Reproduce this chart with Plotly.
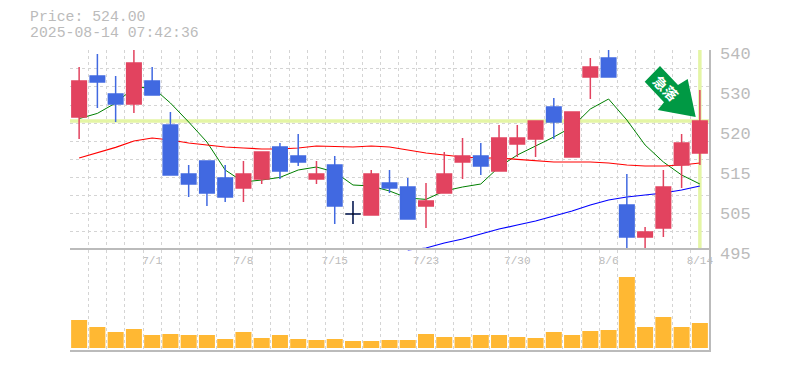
import plotly.graph_objects as go

dates = ["6/25","6/26","6/27","6/30","7/1","7/2","7/3","7/4","7/7","7/8","7/9","7/10","7/11","7/14","7/15","7/16","7/17","7/18",
         "7/22","7/23","7/24","7/25","7/28","7/29","7/30","7/31","8/1","8/4","8/5","8/6","8/7","8/8","8/12","8/13","8/14"]
opens = [525,535.25,530.75,528.25,534,523,510.75,514,509.75,507.25,509.5,517.5,515.25,509.5,513,500.75,500.5,508.5,
         507.5,502.75,506,513.75,515.25,511.5,518.25,519.5,527.5,515,535,539.75,503,495,497.25,513,516]
highs = [537.5,540.75,535.25,541.75,537.5,526.25,513,514,513,514,516.25,518.5,520.75,514,515.25,504,511.75,511.75,
         509.75,508.5,516.25,519.75,518.5,523,523,524,529.75,526.25,539.75,541.75,510.75,497.5,511.75,520.75,531.75]
lows = [519.5,527.25,523.75,526,530.5,510.5,505,502.75,503.75,503.75,508.25,509.5,512.75,508.25,498.25,498.25,500.5,506,
        499.5,497.25,506,509.5,510.5,511.5,515,515,519.5,515,529.5,535,491.75,491.75,495,507.25,513]
closes = [534,533.75,528.25,538.5,530.5,510.5,508.25,506,505,510.75,516.25,511.5,513.75,510.75,502.75,500.75,510.75,507.25,
          499.5,504,510.75,515.25,512.75,519.75,519.75,524,523.75,526.25,537.5,535,495,496.25,507.5,518.5,524]
ma_short = [524.6,525.9,528.5,532.25,532.5,528.5,523.75,518.75,511.75,508.75,509.25,509.9,511.75,512.5,511.25,508,507.75,506.5,
            504.75,504.4,506.5,507.5,508.25,512.5,515.5,517.75,520,522.5,527,529.5,524.25,518,513.75,510.5,508.25]
ma_mid = [514.75,516,517.4,519,519.75,519.25,518.5,518,517.5,517.25,517,517,517.25,517.75,517.6,517.5,517.75,517.5,
          516.75,516,515.5,515,514.75,514.75,514.4,514,513.75,513.75,513.75,513.5,513,512.75,512.75,513,513.5]
ma_long = [None]*18 + [491.75,492.25,493.5,494.5,495.75,497,498,499,500.25,501.5,503,504.25,505,505.5,506,506.75,507.75]
volumes = [28,21,16,19,13,14,13,13,9,16,10,13,9,8,9,7,7,8,8,14,11,11,13,13,11,10,16,13,17,18,71,21,31,21,25]
price_now = 524
price_labels = ["540","530","520","515","505","495"]
price_label_pos = [541,531,521,511,501,491]
date_label_idx = [4,9,14,19,24,29,34]
price_grid = [541.6,537.1,532.55,528,523.5,519,514.45,509.9,505.4,500.85,496.3,491.8]

W, H = 785, 370
RED, BLUE, GRID, TXT = "#e2435f", "#4169e1", "#d4d4d4", "#bbbbbb"
n = len(dates)
xs = list(range(n))
edges = [i - 0.5 for i in range(n + 1)]
px = lambda p: p / W
py = lambda p: 1 - p / H
YR = [490.75, 541.75]

fig = go.Figure()
fig.add_trace(go.Scatter(x=[-0.5, n - 0.5], y=[price_now, price_now], mode="lines",
                         line=dict(color="#e4f5a5", width=3.5), hoverinfo="skip"))
fig.add_trace(go.Scatter(x=[n - 1, n - 1], y=[491.75, 541.75], mode="lines",
                         line=dict(color="#e4f5a5", width=3.5), hoverinfo="skip"))
fig.add_trace(go.Scatter(x=xs, y=ma_short, mode="lines", line=dict(color="#007f00", width=1)))
fig.add_trace(go.Scatter(x=xs, y=ma_mid, mode="lines", line=dict(color="#ff0000", width=1.2)))
fig.add_trace(go.Scatter(x=xs, y=ma_long, mode="lines", line=dict(color="#0000ff", width=1.2)))
fig.add_trace(go.Candlestick(
    x=xs, open=opens, high=highs, low=lows, close=closes,
    increasing=dict(line=dict(color=RED, width=1.5), fillcolor=RED),
    decreasing=dict(line=dict(color=BLUE, width=1.5), fillcolor=BLUE),
    whiskerwidth=0, xaxis="x3", yaxis="y3"))
doji = [i for i in xs if opens[i] == closes[i]]
fig.add_trace(go.Scatter(x=doji, y=[closes[i] for i in doji], mode="markers",
    error_y=dict(type="data", symmetric=False, array=[highs[i]-closes[i] for i in doji],
                 arrayminus=[closes[i]-lows[i] for i in doji], color="#000000", thickness=1, width=0),
    error_x=dict(type="constant", value=0.44, color="#000000", thickness=1, width=0),
    marker=dict(size=1, color="#000000"), xaxis="x3", yaxis="y3"))
fig.add_trace(go.Bar(x=xs, y=volumes, width=0.877, marker=dict(color="#ffb833", line=dict(width=0)),
                     xaxis="x2", yaxis="y2"))

mono = "Liberation Mono, monospace"
axis_line = dict(showline=True, linecolor=TXT, linewidth=2)
grid_minor = dict(tickmode="array", showgrid=True, gridcolor=GRID, griddash="3px,3px", gridwidth=1, ticks="")
fig.update_layout(
    width=W, height=H, autosize=False, showlegend=False, boxgap=0.205, boxgroupgap=0,
    paper_bgcolor="white", plot_bgcolor="rgba(0,0,0,0)", margin=dict(l=0, r=0, t=0, b=0, autoexpand=False),
    xaxis=dict(domain=[px(70), px(709)], range=[-0.5, n - 0.5], anchor="y",
               tickmode="array", tickvals=date_label_idx, ticktext=[dates[i] for i in date_label_idx],
               showgrid=False, ticks="", zeroline=False, showline=False, ticklabelstandoff=-2,
               tickfont=dict(family=mono, size=11, color=TXT),
               minor=dict(tickvals=edges, **grid_minor)),
    yaxis=dict(domain=[py(254), py(50)], range=YR, side="right", anchor="x",
               tickmode="array", tickvals=price_label_pos, ticktext=price_labels, showgrid=False, ticks="", zeroline=False,
               ticklabelstandoff=10, tickfont=dict(family=mono, size=17, color=TXT),
               minor=dict(tickvals=price_grid, **grid_minor)),
    xaxis3=dict(domain=[px(70), px(709)], range=[-0.5, n - 0.5], anchor="y3", overlaying="x", visible=False,
                rangeslider=dict(visible=False)),
    yaxis3=dict(domain=[py(254), py(50)], range=YR, anchor="x3", overlaying="y", visible=False),
    xaxis2=dict(domain=[px(70), px(709)], range=[-0.5, n - 0.5], anchor="y2", showticklabels=False, ticks="",
                showgrid=False, zeroline=False, mirror=True, **axis_line,
                minor=dict(tickvals=edges, **grid_minor)),
    yaxis2=dict(domain=[py(350), py(250)], range=[-2, 98], side="right", anchor="x2", showticklabels=False,
                ticks="", showgrid=False, zeroline=False, **axis_line),
    shapes=[
        dict(type="line", xref="paper", yref="paper", x0=px(710), x1=px(710), y0=py(250), y1=py(50),
             line=dict(color=TXT, width=2)),
        dict(type="path", xref="paper", yref="paper", fillcolor="#009944", line=dict(width=0),
             path="M {} {} L {} {} L {} {} L {} {} L {} {} L {} {} L {} {} Z".format(
                 px(644.7), py(81.7), px(660), py(66), px(678), py(85), px(687.7), py(79),
                 px(695.7), py(117), px(657.7), py(110), px(664), py(102.3))),
    ],
    annotations=[
        dict(text="Price: 524.00", xref="paper", yref="paper", x=px(29), y=py(17), height=14, borderpad=0,
             xanchor="left", yanchor="middle", showarrow=False,
             font=dict(family=mono, size=14.8, color=TXT)),
        dict(text="2025-08-14 07:42:36", xref="paper", yref="paper", x=px(29), y=py(33.5), height=14, borderpad=0,
             xanchor="left", yanchor="middle", showarrow=False,
             font=dict(family=mono, size=14.8, color=TXT)),
        dict(text="<b>急落</b>", xref="paper", yref="paper", x=px(666), y=py(88), xanchor="center", yanchor="middle",
             textangle=45, showarrow=False,
             font=dict(family="Noto Sans CJK JP", size=14, color="white")),
    ],
)
fig.write_html("out.html", config=dict(displayModeBar=False), post_script="document.body.style.margin='0';")
